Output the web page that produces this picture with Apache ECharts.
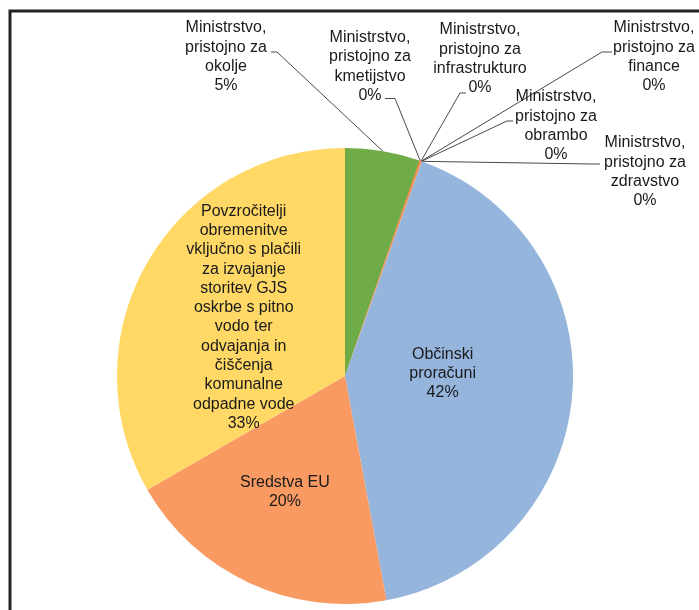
<!DOCTYPE html>
<html>
<head>
<meta charset="utf-8">
<script src="https://cdn.jsdelivr.net/npm/echarts@6/dist/echarts.min.js"></script>
<style>
html,body{margin:0;padding:0;background:#fff;}
#chart{width:699px;height:610px;}
</style>
</head>
<body>
<div id="chart"></div>
<script>
// Data
const categories = [
  'Ministrstvo,\npristojno za\nokolje',
  'Ministrstvo,\npristojno za\nkmetijstvo',
  'Ministrstvo,\npristojno za\ninfrastrukturo',
  'Ministrstvo,\npristojno za\nfinance',
  'Ministrstvo,\npristojno za\nobrambo',
  'Ministrstvo,\npristojno za\nzdravstvo',
  'Občinski\nproračuni',
  'Sredstva EU',
  'Povzročitelji\nobremenitve\nvključno s plačili\nza izvajanje\nstoritev GJS\noskrbe s pitno\nvodo ter\nodvajanja in\nčiščenja\nkomunalne\nodpadne vode'
];
const values = [5.3, 0.1, 0.02, 0.02, 0.02, 0.02, 41.6, 19.6, 33.3];

// Styles / layout
const colors = ['#6FAB46', '#E8762C', '#E8762C', '#E8762C', '#E8762C', '#E8762C', '#95B5DD', '#F99A62', '#FFD866'];
const outsideLabelPos = [
  {x: 226, y: 57,   end: [45, -5],  elbow: [51, -5]},
  {x: 370, y: 66.5, end: [15, 32],  elbow: [25, 32]},
  {x: 480, y: 59,   end: [-14, 34], elbow: [-20, 34]},
  {x: 654, y: 57,   end: [-42, -5], elbow: [-52, -5]},
  {x: 556, y: 126,  end: [-43, -5], elbow: [-49, -5]},
  {x: 645, y: 172,  end: [-45, -8], elbow: [-53, -8]}
];
const insideOffsets = {6: [-19, -12], 7: [-11, 10], 8: [0, 0]};

const chart = echarts.init(document.getElementById('chart'), null, {renderer: 'canvas'});

const data = categories.map((name, i) => {
  const inside = i >= 6;
  return {
    name: name,
    value: values[i],
    itemStyle: {color: colors[i]},
    label: {position: inside ? 'inside' : 'outside'},
    labelLine: {show: !inside}
  };
});

chart.setOption({
  animation: false,
  backgroundColor: '#ffffff',
  graphic: [{
    type: 'polyline',
    shape: {points: [[10, 612], [10, 11], [701, 11]]},
    style: {stroke: '#222', lineWidth: 3, fill: null},
    silent: true
  }],
  series: [{
    type: 'pie',
    center: [345, 376],
    radius: 228,
    startAngle: 90,
    clockwise: true,
    avoidLabelOverlap: false,
    percentPrecision: 0,
    emphasis: {disabled: true},
    itemStyle: {borderWidth: 0},
    label: {
      show: true,
      formatter: '{b}\n{d}%',
      fontFamily: 'Liberation Sans, Arial, sans-serif',
      fontSize: 16,
      lineHeight: 19.3,
      color: '#1a1a1a',
      align: 'center'
    },
    labelLine: {
      show: true,
      length: 10,
      length2: 10,
      lineStyle: {color: '#4a4a4a', width: 1}
    },
    labelLayout: function (params) {
      const i = params.dataIndex;
      if (i >= 6) {
        const o = insideOffsets[i];
        return {dx: o[0], dy: o[1]};
      }
      const p = outsideLabelPos[i];
      const res = {x: p.x, y: p.y, align: 'center', verticalAlign: 'middle'};
      const pts = params.labelLinePoints;
      if (pts && pts.length) {
        res.labelLinePoints = [
          pts[0],
          [p.x + p.elbow[0], p.y + p.elbow[1]],
          [p.x + p.end[0], p.y + p.end[1]]
        ];
      }
      return res;
    },
    data: data
  }]
});
</script>
</body>
</html>
